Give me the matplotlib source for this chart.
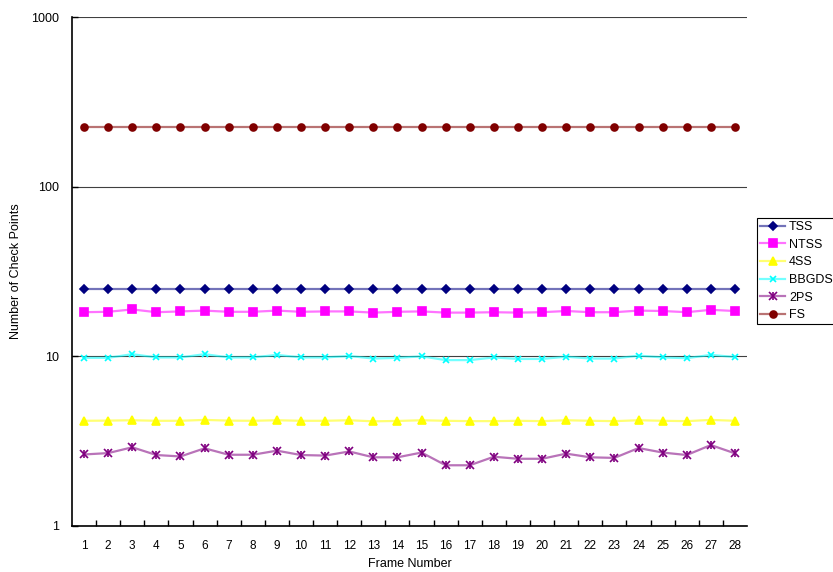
import matplotlib.pyplot as plt
import numpy as np
from matplotlib.lines import Line2D

plt.rcParams['font.family'] = ['Liberation Sans', 'DejaVu Sans']

frames = list(range(1, 29))
tss = [25] * 28
ntss = [18.2, 18.3, 18.9, 18.2, 18.4, 18.6, 18.3, 18.3, 18.6, 18.3, 18.4, 18.4, 18.1, 18.3,
        18.4, 18.1, 18.1, 18.2, 18.1, 18.2, 18.5, 18.2, 18.2, 18.6, 18.5, 18.2, 18.8, 18.5]
fss = [4.17, 4.18, 4.2, 4.17, 4.17, 4.22, 4.18, 4.17, 4.2, 4.17, 4.17, 4.2, 4.14, 4.16,
       4.2, 4.17, 4.15, 4.15, 4.17, 4.15, 4.2, 4.17, 4.15, 4.2, 4.17, 4.15, 4.22, 4.17]
bbgds = [9.8, 9.8, 10.3, 9.85, 9.85, 10.3, 9.85, 9.85, 10.2, 9.85, 9.85, 10.05, 9.7, 9.8,
         10.0, 9.5, 9.5, 9.85, 9.65, 9.65, 9.95, 9.7, 9.7, 10.1, 9.85, 9.75, 10.2, 9.9]
tps = [2.64, 2.69, 2.91, 2.62, 2.57, 2.87, 2.63, 2.63, 2.78, 2.62, 2.6, 2.75, 2.54, 2.54,
       2.71, 2.28, 2.28, 2.56, 2.49, 2.49, 2.67, 2.54, 2.52, 2.88, 2.71, 2.62, 3.0, 2.68]
fs = [225] * 28

# name, values, colour, markers (overlaid), marker size
series = [
    ('TSS', tss, '#000080', ['D'], 4),
    ('NTSS', ntss, '#ff00ff', ['s'], 5.5),
    ('4SS', fss, '#ffff00', ['^'], 5.5),
    ('BBGDS', bbgds, '#00ffff', ['x'], 5),
    ('2PS', tps, '#800080', ['x', '|'], 5.5),
    ('FS', fs, '#800000', ['o'], 5),
]

fig = plt.figure(figsize=(8.33, 5.72), dpi=100)
ax = fig.add_axes([72 / 833, 1 - 526 / 572, 675 / 833, 509 / 572])

for name, vals, col, mks, ms in series:
    ax.plot(frames, vals, color=col, alpha=0.55, linewidth=1.6, zorder=2)
    for mk in mks:
        ax.plot(frames, vals, color=col, marker=mk, markersize=ms, linestyle='none',
                markeredgewidth=1.2, zorder=3)

handles = []
for _, _, col, mks, ms in series:
    h = [Line2D([0], [0], color=col, alpha=0.55, linewidth=1.6)]
    for mk in mks:
        h.append(Line2D([0], [0], color=col, marker=mk, markersize=ms, linestyle='none',
                        markeredgewidth=1.2))
    handles.append(tuple(h))
fig.legend(handles, [s[0] for s in series], loc='upper left',
           bbox_to_anchor=(757 / 833, 1 - 218 / 572), fontsize=9, frameon=True,
           fancybox=False, edgecolor='black', framealpha=1, borderpad=0.25,
           labelspacing=0.45, handlelength=2.0, handletextpad=0.3, borderaxespad=0)
fig.legends[0].get_frame().set_linewidth(0.8)

ax.set_yscale('log')
ax.set_ylim(1, 1000)
ax.set_xlim(0.5, 28.5)
ax.set_yticks([1, 10, 100, 1000])
ax.set_yticklabels(['1', '10', '100', '1000'])
ax.yaxis.set_minor_locator(plt.NullLocator())
ax.set_xticks(frames)
ax.set_xticklabels([str(f) for f in frames])
ax.set_xticks(np.arange(1.5, 28.5, 1), minor=True)
ax.tick_params(axis='x', which='major', length=0, pad=10, labelsize=8.5)
ax.tick_params(axis='x', which='minor', length=4, direction='in', width=1)
ax.tick_params(axis='y', which='major', length=4, direction='in', width=1, labelsize=9, pad=9)

ax.grid(axis='y', which='major', color='#404040', linewidth=0.8)
ax.set_axisbelow(True)
for s in ['top', 'right']:
    ax.spines[s].set_visible(False)
for s in ['left', 'bottom']:
    ax.spines[s].set_linewidth(1.2)
    ax.spines[s].set_zorder(4)

ax.set_xlabel('Frame Number', fontsize=9, va='center')
ax.xaxis.set_label_coords(0.5, -(564 - 526) / 509)
ax.set_ylabel('Number of Check Points', fontsize=9)
ax.yaxis.set_label_coords(-(72 - 22) / 675, 0.5)

fig.savefig('out.png', dpi=100)
